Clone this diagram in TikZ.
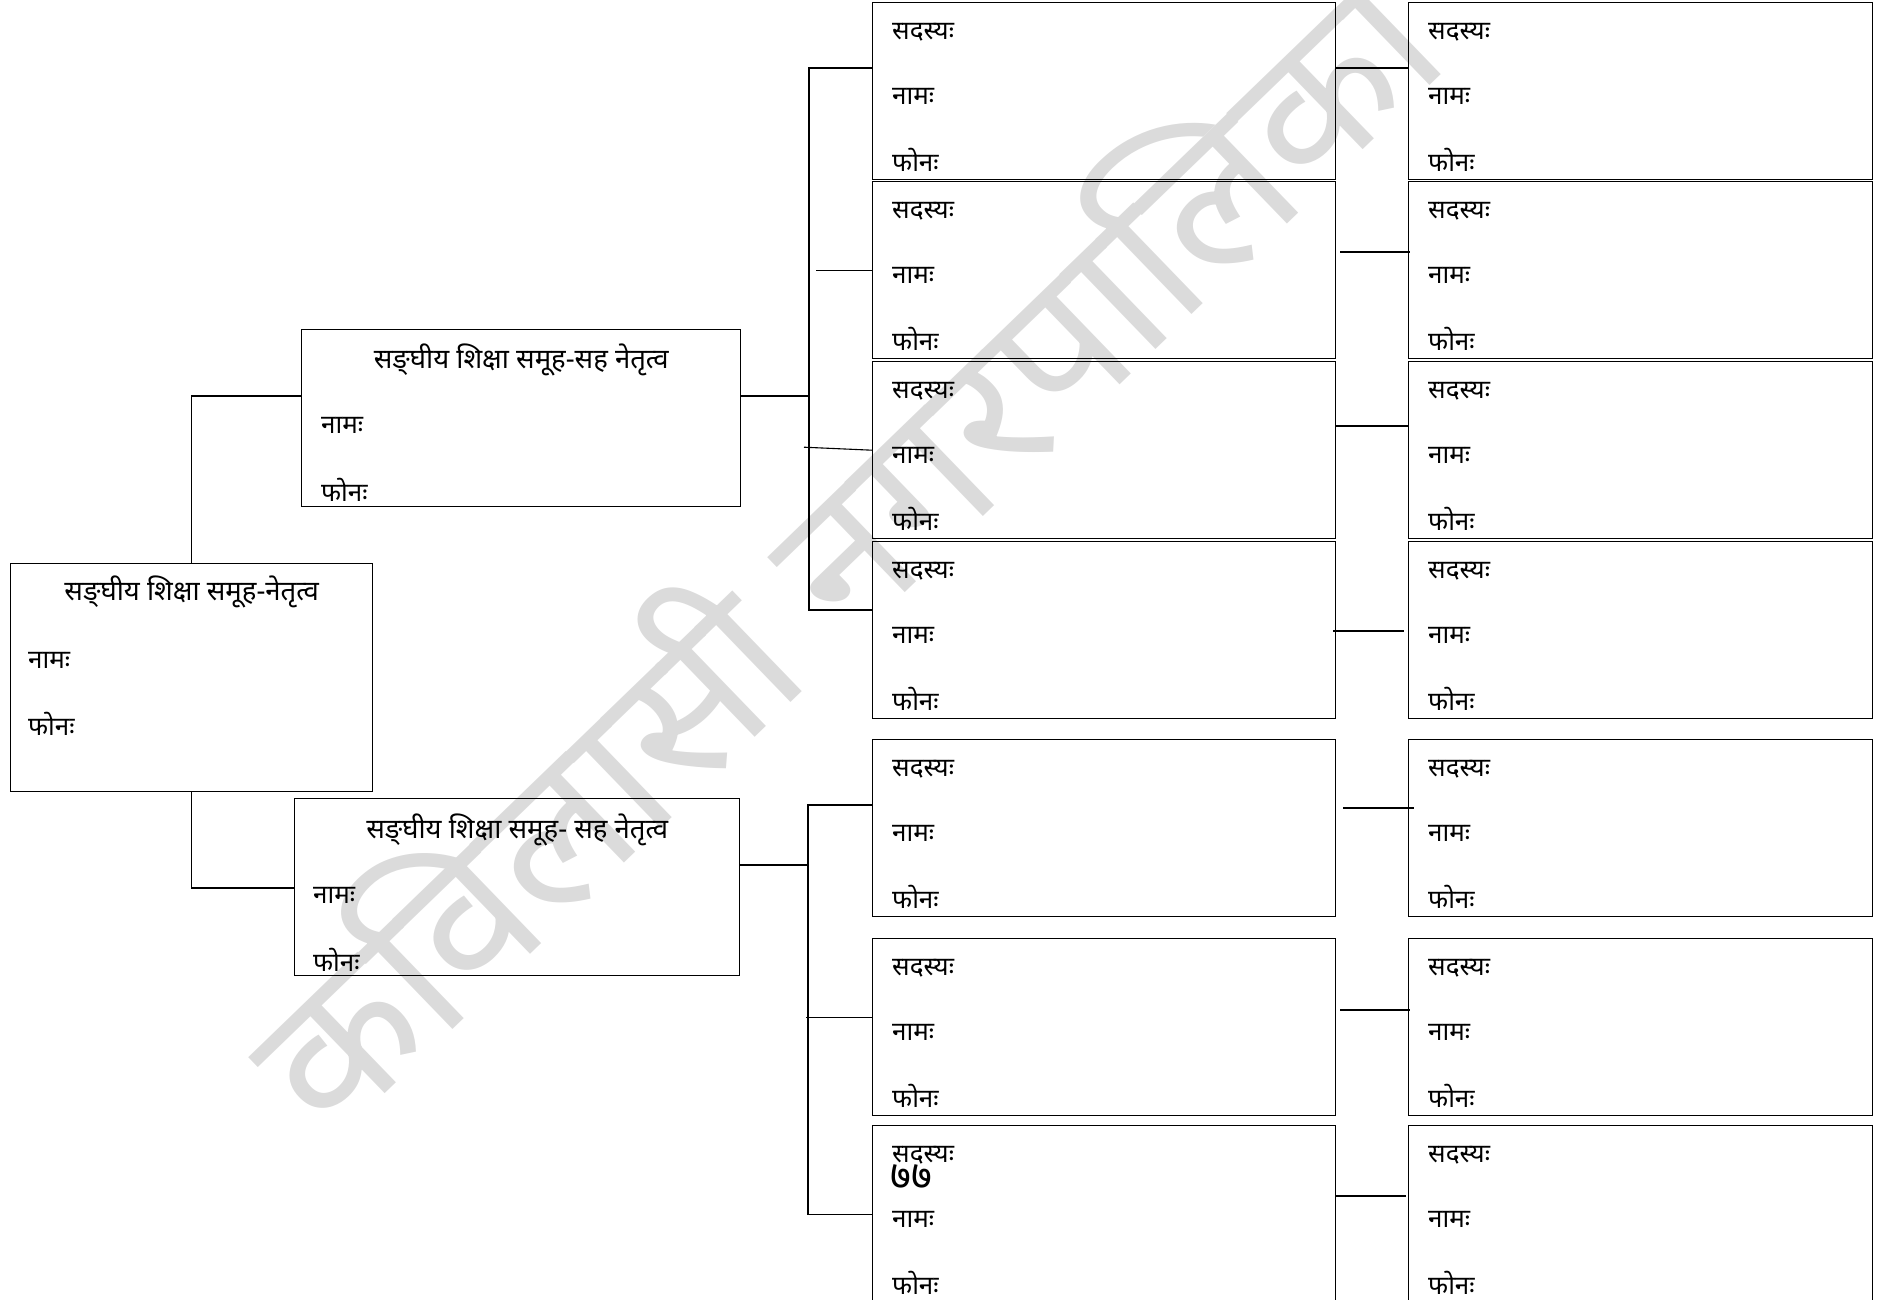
\documentclass[tikz,border=0pt]{standalone}
\usepackage{fontspec}
\newfontfamily\dev[Script=Devanagari]{Noto Sans}
\usetikzlibrary{positioning,calc}

\begin{document}
\begin{tikzpicture}[x=1pt,y=-1pt,
  box/.style={draw,line width=1.4pt,anchor=north west,inner sep=0pt,minimum width=463pt,minimum height=177pt},
  lbl/.style={anchor=west,inner sep=0pt,font=\dev\fontsize{26}{30}\selectfont},
  ttl/.style={inner sep=0pt,font=\dev\fontsize{27.5}{32}\selectfont},
  link/.style={line width=1.1pt}]
\useasboundingbox (0,0) rectangle (1893,1300);
% watermark
\node[rotate=44,text=black!14,font=\dev\fontsize{194}{194}\selectfont] (wm) at (834,542) {कविलासी नगरपालिका};
% leader and the two co-leaders
\node[box,minimum width=362pt,minimum height=228pt] (lead) at (10,563) {};
\node[ttl] (leadT) at ($(lead.north)+(0,29)$) {सङ्^^^^200cघीय शिक्षा समूह-नेतृत्व};
\node[lbl] (leadN) at ($(lead.north west)+(18,97)$) {नामः};
\node[lbl] (leadP) at ($(lead.north west)+(18,161)$) {फोनः};
\node[box,minimum width=439pt] (sl1) at (301,329) {};
\node[ttl] (sl1T) at ($(sl1.north)+(0,31)$) {सङ्^^^^200cघीय शिक्षा समूह-सह नेतृत्व};
\node[lbl] (sl1N) at ($(sl1.north west)+(20,96)$) {नामः};
\node[lbl] (sl1P) at ($(sl1.north west)+(20,161)$) {फोनः};
\node[box,minimum width=445pt] (sl2) at (294,798) {};
\node[ttl] (sl2T) at ($(sl2.north)+(0,32)$) {सङ्^^^^200cघीय शिक्षा समूह- सह नेतृत्व};
\node[lbl] (sl2N) at ($(sl2.north west)+(19,97)$) {नामः};
\node[lbl] (sl2P) at ($(sl2.north west)+(19,162)$) {फोनः};
\draw[link] (lead.north) |- ($(sl1.north west)+(0,67)$);
\draw[link] (lead.south) |- ($(sl2.north west)+(0,90)$);
% member boxes, two columns
\foreach \r/\t/\m/\ga/\gb in {1/2/66/0/0,2/181/71/4/2,3/361/65/0/0,4/541/90/-3/-4,5/739/69/7/6,6/938/72/4/2,7/1125/71/-1/-2}{
  \node[box] (a\r) at (872,\t) {};
  \node[box,minimum width=464pt] (b\r) at (1408,\t) {};
  \foreach \c in {a,b}{
    \node[lbl] (\c\r S) at ($(\c\r.north west)+(20,30)$) {सदस्यः};
    \node[lbl] (\c\r N) at ($(\c\r.north west)+(20,94)$) {नामः};
    \node[lbl] (\c\r P) at ($(\c\r.north west)+(20,158)$) {फोनः};
  }
  \draw[link] ($(a\r.north east)+(\ga,\m)$) -- ($(b\r.north west)+(\gb,\m)$);
}
\node[lbl,font=\dev\fontsize{40}{44}\selectfont] (pg) at ($(a7.north west)+(18,52)$) {७७};
% links to the first column
\coordinate (sp1) at (809,396);
\coordinate (sp2) at (808,865);
\draw[link] ($(sl1.north east)+(0,67)$) -- (sp1);
\draw[link] ($(a1.north west)+(0,66)$) -| (sp1) |- ($(a4.north west)+(0,69)$);
\draw[link] ($(a2.west)+(-56,0)$) -- (a2.west);
\draw[link] ($(a3.west)+(-68,-3)$) -- (a3.west);
\draw[link] ($(sl2.north east)+(0,67)$) -- (sp2);
\draw[link] ($(a5.north west)+(0,66)$) -| (sp2) |- (a7.west);
\draw[link] ($(a6.west)+(-66,-10)$) -- ($(a6.west)+(0,-10)$);
\end{tikzpicture}
\end{document}
